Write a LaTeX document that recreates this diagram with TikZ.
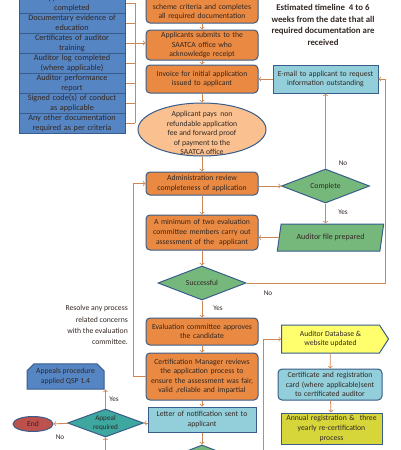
\documentclass[tikz,border=0pt]{standalone}
\usepackage{fontspec}
\setmainfont{Carlito}
\usetikzlibrary{shapes.geometric,shapes.misc,shapes.symbols}

\definecolor{ink}{RGB}{50,40,35}
\definecolor{docblue}{RGB}{86,133,196}
\definecolor{edgeblue}{RGB}{56,93,138}
\definecolor{boxorange}{RGB}{234,137,66}
\definecolor{peach}{RGB}{250,192,144}
\definecolor{boxcyan}{RGB}{147,207,218}
\definecolor{diagreen}{RGB}{118,184,124}
\definecolor{diateal}{RGB}{62,168,160}
\definecolor{endred}{RGB}{190,80,77}
\definecolor{dbyellow}{RGB}{255,255,110}
\definecolor{olive}{RGB}{214,214,58}
\definecolor{wire}{RGB}{205,135,85}

\begin{document}
\begin{tikzpicture}[x=1pt, y=-1pt,
  every node/.style = {align=center, inner sep=1pt, text=ink,
    font=\fontsize{7.7}{9.6}\selectfont},
  doc/.style = {rectangle, draw=edgeblue, fill=docblue, line width=1pt,
    text width=104pt, minimum height=20pt,
    font=\fontsize{8.2}{9.8}\selectfont},
  stepbox/.style = {rectangle, rounded corners=4pt, draw=edgeblue,
    fill=boxorange, line width=1pt, text width=108pt, inner sep=2pt},
  infobox/.style = {rectangle, draw=edgeblue, fill=boxcyan, line width=1pt,
    inner sep=2pt},
  decision/.style = {diamond, aspect=2.6, draw=edgeblue, fill=diagreen,
    line width=1pt, inner sep=0pt, minimum width=88pt, minimum height=34pt},
  conn/.style = {draw=wire, line width=0.8pt, ->},
  tag/.style = {inner sep=0pt, font=\fontsize{7.2}{9}\selectfont}]

  \useasboundingbox (0,0) rectangle (400,450);
  \clip (0,0) rectangle (400,450);

  % documents to be supplied
  \node[doc] (form) at (72,3) {Application form\\completed};
  \node[doc] (edu) at (72,23) {Documentary evidence of\\education};
  \node[doc] (train) at (72,43) {Certificates of auditor\\training};
  \node[doc] (log) at (72,63) {Auditor log completed\\(where applicable)};
  \node[doc] (perf) at (72,83) {Auditor performance\\report};
  \node[doc] (code) at (72,103) {Signed code(s) of conduct\\as applicable};
  \node[doc] (other) at (72,123) {Any other documentation\\required as per criteria};

  % main column
  \node[stepbox, minimum height=32pt] (study) at (202,7)
    {Applicant studies the relevant\\scheme criteria and completes\\all required documentation};
  \node[stepbox, minimum height=30pt] (submit) at (202,45)
    {Applicants submits to the\\SAATCA office who\\acknowledge receipt};
  \node[stepbox, minimum height=28pt] (invoice) at (202,79)
    {Invoice for initial application\\issued to applicant};
  \node[ellipse, draw=edgeblue, fill=peach, line width=1pt, inner sep=0pt,
    minimum width=128pt, minimum height=53pt] (pay) at (202,129.5) {};
  \node[font=\fontsize{7.7}{9.5}\selectfont] (paytext) at (202,133)
    {Applicant pays\ \ non\\refundable application\\fee and forward proof\\of payment to the\\SAATCA office};
  \node[stepbox, minimum height=23pt] (admin) at (202,183.5)
    {Administration review\\completeness of application};
  \node[stepbox, minimum height=35pt] (assess) at (202,232.5)
    {A minimum of two evaluation\\committee members carry out\\assessment of the\ \ applicant};
  \node[decision] (success) at (202,283) {Successful};
  \node[stepbox, minimum height=27pt] (approve) at (202,331.5)
    {Evaluation committee approves\\the candidate};
  \node[stepbox, minimum height=47pt, font=\fontsize{7.7}{9.3}\selectfont] (review) at (202,376.5)
    {Certification Manager reviews\\the application process to\\ensure the assessment was fair,\\valid ,reliable and impartial};
  \node[infobox, text width=104pt, minimum height=25pt] (letter) at (202,419.5)
    {Letter of notification sent to\\applicant};
  \node[decision] (next) at (202,462) {};

  % right column
  \node[font=\bfseries\fontsize{8.8}{11.8}\selectfont] (timeline) at (323,25)
    {Estimated timeline\ \ 4 to 6\\weeks from the date that all\\required documentation are\\received};
  \node[infobox, text width=101pt, minimum height=28pt] (email) at (325.5,79)
    {E-mail to applicant to request\\information outstanding};
  \node[decision] (complete) at (325.5,186) {Complete};
  \node[trapezium, trapezium left angle=73, trapezium right angle=107,
    trapezium stretches=true, draw=edgeblue, fill=diagreen, line width=1pt,
    minimum width=107pt, minimum height=27pt, font=\fontsize{8}{9.6}\selectfont]
    (file) at (330.5,237.5) {Auditor file prepared};
  \node[signal, signal to=east, signal pointer angle=114, draw=edgeblue,
    fill=dbyellow, line width=1pt, minimum width=107pt, minimum height=28pt]
    (db) at (330.5,339) {Auditor Database \&\\website updated};
  \node[infobox, rounded corners=4pt, text width=100pt, minimum height=31pt]
    (card) at (330,384.5)
    {Certificate and registration\\card (where applicable)sent\\to certificated auditor};
  \node[rectangle, draw=edgeblue, fill=olive, line width=1pt, text width=97pt,
    inner sep=2pt, minimum height=31pt] (annual) at (331.5,428.5)
    {Annual registration \&\ \ three\\yearly re-certification\\process};

  % appeals
  \node[anchor=east, align=right, font=\fontsize{7.7}{11.2}\selectfont]
    (resolve) at (129,325)
    {Resolve any process\\related concerns\\with the evaluation\\committee.};
  \node[chamfered rectangle, chamfered rectangle corners={north west,north east},
    chamfered rectangle xsep=3.5pt, chamfered rectangle ysep=3.5pt,
    draw=edgeblue, fill=docblue, line width=1pt, minimum width=77pt,
    minimum height=23pt, inner sep=1pt] (appeals) at (65.5,376.5)
    {Appeals procedure\\applied QSP 1.4};
  \node[decision, fill=diateal, aspect=2.7, minimum width=76pt,
    minimum height=28pt, font=\fontsize{7.2}{8.8}\selectfont]
    (appeal) at (105.5,423) {Appeal\\required};
  \node[ellipse, draw=edgeblue, fill=endred, line width=1pt, inner sep=0pt,
    minimum width=40pt, minimum height=15pt] (end) at (33,424) {End};

  % labels
  \node[tag] (noemail) at (343,163) {No};
  \node[tag] (yesfile) at (343,212) {Yes};
  \node[tag] (noretry) at (268,293) {No};
  \node[tag] (yespass) at (218,308) {Yes};
  \node[tag] (yesappeal) at (114,399) {Yes};
  \node[tag] (noend) at (60,437) {No};

  % bracket of documents
  \coordinate (brk) at (135,43);
  \foreach \row in {form,edu,train,log,perf,code,other}
    \draw[draw=wire, line width=0.8pt] (\row.east) -- (\row.east -| brk);
  \draw[draw=wire, line width=0.8pt] (form.east -| brk) -- (other.east -| brk);
  \draw[conn] (brk) -- (brk -| submit.west);

  % connectors
  \draw[conn] (study) -- (submit);
  \draw[conn] (submit) -- (invoice);
  \draw[conn] (invoice) -- (pay);
  \draw[conn] (pay) -- (admin);
  \draw[conn] (admin) -- (assess);
  \draw[conn] (assess) -- (success);
  \draw[conn] (success) -- (approve);
  \draw[conn] (approve) -- (review);
  \draw[conn] (review) -- (letter);
  \draw[conn] (letter) -- (next);
  \draw[conn] (email) -- (invoice);
  \draw[conn] (admin.east |- complete) -- (complete.west);
  \draw[conn] (complete) -- (complete |- email.south);
  \draw[conn] (complete) -- (complete |- file.north);
  \draw[conn] (file.west) -- (file.west -| assess.east);
  \draw[conn] (success.east) -- ++(139,0) |- (email.east);
  \draw[conn] (review.west) -- ++(-12,0) |- (admin.west);
  \draw[conn] (letter.west |- appeal) -- (appeal.east);
  \draw[conn] (appeal) -- (appeal |- appeals.south);
  \draw[conn] (appeal) -- (end);
  \coordinate (appin) at (105.5,460);
  \draw[conn] (appin) -- (appeal);
  \coordinate (dbin) at (263,460);
  \draw[conn] (dbin) |- (db.west);
  \draw[conn] (db) -- (card);
  \draw[conn] (card) -- (annual);
\end{tikzpicture}
\end{document}
